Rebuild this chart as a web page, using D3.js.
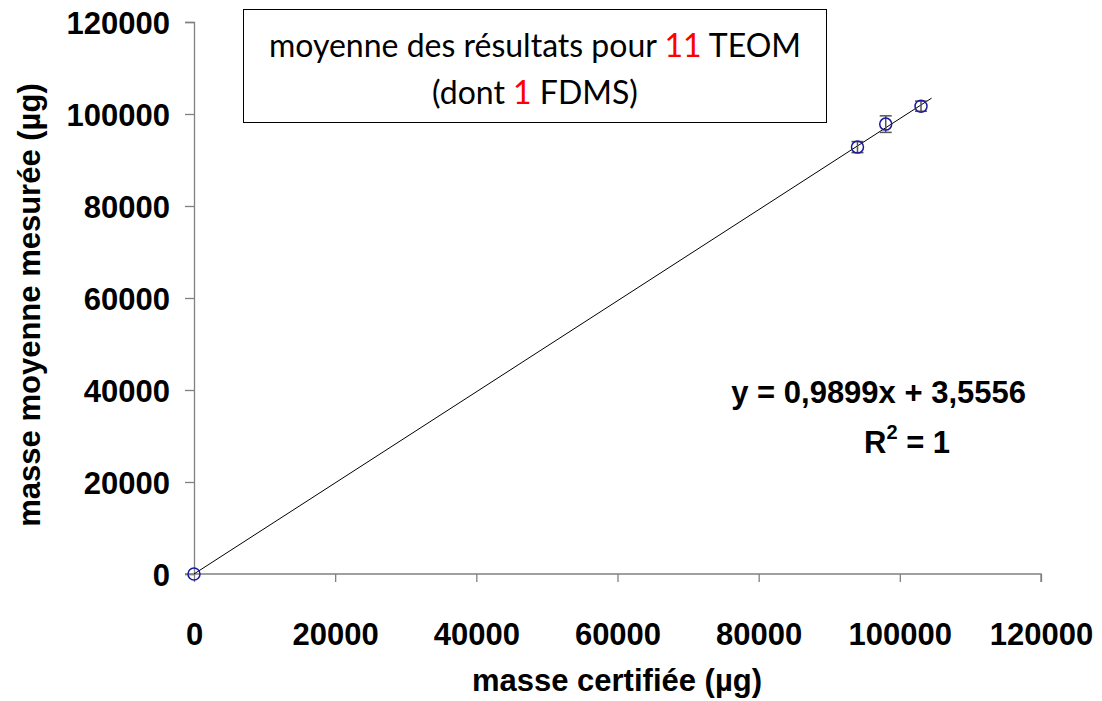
<!DOCTYPE html>
<html>
<head>
<meta charset="utf-8">
<script src="https://cdn.jsdelivr.net/npm/d3@7"></script>
<style>
  body { margin: 0; background: #fff; }
  text { font-family: "Liberation Sans", Arial, sans-serif; }
</style>
</head>
<body>
<div id="chart"></div>
<script>
// data
const certified = [0, 94000, 98000, 103000];
const measured  = [0, 92800, 97800, 101700];
const errY      = [0, 1200, 1800, 1100];
const ticks     = [0, 20000, 40000, 60000, 80000, 100000, 120000];
const slope = 0.9899, intercept = 3.5556;

const width = 1102, height = 701;
const margin = {top: 22, right: 61, bottom: 127, left: 194};
const boundedWidth = width - margin.left - margin.right;
const boundedHeight = height - margin.top - margin.bottom;
const boldSize = '31px';

const svg = d3.select('#chart').append('svg')
  .attr('width', width)
  .attr('height', height);

const graph = svg.append('g')
  .attr('transform', `translate(${margin.left}, ${margin.top})`);

const xScale = d3.scaleLinear().domain([0, 120000]).range([0, boundedWidth]);
const yScale = d3.scaleLinear().domain([0, 120000]).range([boundedHeight, 0]);

// axes
const gX = graph.append('g')
  .attr('transform', `translate(0, ${boundedHeight})`)
  .call(d3.axisBottom(xScale).tickValues(ticks).tickSize(8).tickSizeOuter(8).tickFormat(d3.format('d')));
const gY = graph.append('g')
  .call(d3.axisLeft(yScale).tickValues(ticks).tickSize(9).tickSizeOuter(9).tickFormat(d3.format('d')));

[gX, gY].forEach(g => {
  g.attr('font-size', null).attr('font-family', null);
  g.selectAll('path, line').attr('stroke', '#808080').attr('stroke-width', 1.3);
  g.selectAll('text')
    .attr('fill', '#000')
    .style('font-size', boldSize)
    .style('font-weight', 'bold');
});
gX.selectAll('text').attr('y', 0).attr('dy', '2.3em');
gY.selectAll('text').attr('x', -24).attr('dy', '0.36em');
gX.select('.domain').attr('d', `M${-9},0H${boundedWidth}V8`);

// trend line
const lineGen = d3.line()
  .x(d => xScale(d))
  .y(d => yScale(slope * d + intercept));
graph.append('path')
  .attr('d', lineGen([0, 104500]))
  .attr('fill', 'none')
  .attr('stroke', '#000')
  .attr('stroke-width', 1);

// error bars
const pts = certified.map((c, i) => ({x: c, y: measured[i], e: errY[i]}));
const eb = graph.selectAll('.err').data(pts.filter(d => d.e > 0)).enter().append('g')
  .attr('stroke', '#555').attr('stroke-width', 1.5);
eb.append('line')
  .attr('x1', d => xScale(d.x)).attr('x2', d => xScale(d.x))
  .attr('y1', d => yScale(d.y - d.e)).attr('y2', d => yScale(d.y + d.e));
eb.append('line')
  .attr('x1', d => xScale(d.x) - 6).attr('x2', d => xScale(d.x) + 6)
  .attr('y1', d => yScale(d.y - d.e)).attr('y2', d => yScale(d.y - d.e));
eb.append('line')
  .attr('x1', d => xScale(d.x) - 6).attr('x2', d => xScale(d.x) + 6)
  .attr('y1', d => yScale(d.y + d.e)).attr('y2', d => yScale(d.y + d.e));

// markers
graph.selectAll('.pt').data(pts).enter().append('circle')
  .attr('cx', d => xScale(d.x))
  .attr('cy', d => yScale(d.y))
  .attr('r', 6)
  .attr('fill', 'none')
  .attr('stroke', '#1a1aa0')
  .attr('stroke-width', 1.5);

// axis titles
svg.append('text')
  .attr('x', 617).attr('y', 691)
  .attr('text-anchor', 'middle')
  .style('font-size', boldSize).style('font-weight', 'bold')
  .text('masse certifiée (µg)');
svg.append('text')
  .attr('transform', 'translate(40, 305) rotate(-90)')
  .attr('text-anchor', 'middle')
  .style('font-size', boldSize).style('font-weight', 'bold')
  .text('masse moyenne mesurée (µg)');

// equation
svg.append('text')
  .attr('x', 1026).attr('y', 403)
  .attr('text-anchor', 'end')
  .style('font-size', boldSize).style('font-weight', 'bold')
  .text('y = 0,9899x + 3,5556');
const r2 = svg.append('text')
  .attr('x', 864).attr('y', 453)
  .style('font-size', boldSize).style('font-weight', 'bold');
r2.append('tspan').text('R');
r2.append('tspan').attr('dy', -14).style('font-size', '20px').text('2');
r2.append('tspan').attr('dy', 14).text(' = 1');

// title box
svg.append('rect')
  .attr('x', 243.5).attr('y', 9.5)
  .attr('width', 583).attr('height', 113)
  .attr('fill', '#fff').attr('stroke', '#000').attr('stroke-width', 1);
const t1 = svg.append('text')
  .attr('x', 535).attr('y', 57)
  .attr('text-anchor', 'middle')
  .style('font-family', 'Lato, "Open Sans", sans-serif')
  .style('font-size', '32px');
t1.append('tspan').text('moyenne des résultats pour ');
t1.append('tspan').attr('fill', '#ff0000').text('11');
t1.append('tspan').text(' TEOM');
const t2 = svg.append('text')
  .attr('x', 535).attr('y', 104)
  .attr('text-anchor', 'middle')
  .style('font-family', 'Lato, "Open Sans", sans-serif')
  .style('font-size', '32px');
t2.append('tspan').text('(dont ');
t2.append('tspan').attr('fill', '#ff0000').text('1');
t2.append('tspan').text(' FDMS)');
</script>
</body>
</html>
